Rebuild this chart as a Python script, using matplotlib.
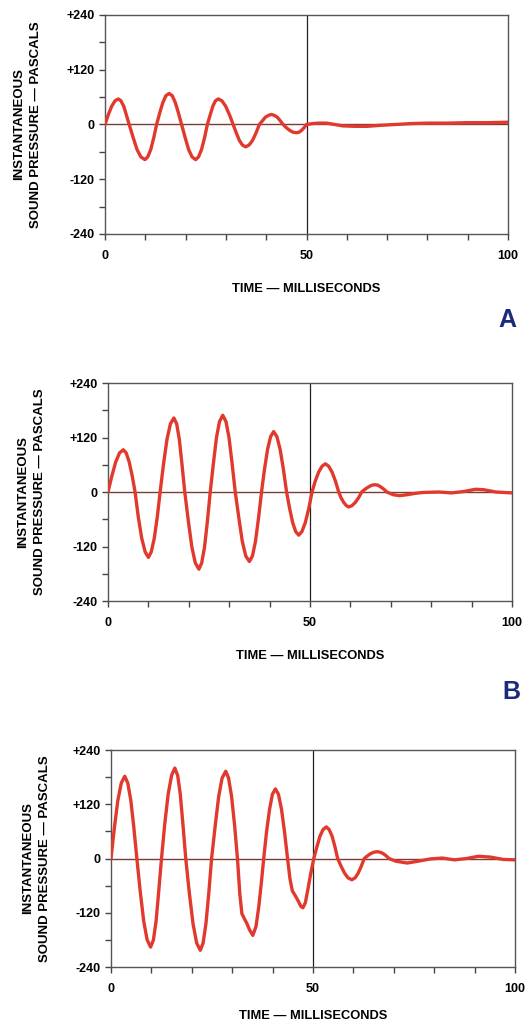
import matplotlib
matplotlib.use('Agg')
import matplotlib.pyplot as plt
from matplotlib.ticker import MultipleLocator

plt.rcParams['font.family'] = ['Liberation Sans', 'DejaVu Sans']

# Panel A - pressure wave (ms, Pa)
time_a = [0, 0.8, 1.65, 2.5, 3.3, 3.95, 4.65, 5.3, 6.0, 7.0, 7.95, 8.9, 9.9, 10.6, 11.35, 12.1, 12.8,
          13.6, 14.35, 15.1, 15.9, 16.7, 17.45, 18.2, 19.0, 19.9, 20.75, 21.6, 22.5, 23.2, 23.95, 24.7, 25.4,
          26.1, 26.75, 27.4, 28.1, 29.0, 29.95, 30.9, 31.8, 32.6, 33.35, 34.1, 34.9, 35.75, 36.6, 37.45, 38.3,
          39.05, 39.8, 40.55, 41.3, 42.0, 42.75, 43.5, 44.2, 45.0, 45.85, 46.7, 47.5, 48.1, 48.75, 49.4, 50.0,
          51.5, 53, 55, 57, 59, 62, 65, 68, 72, 76, 80, 85, 90, 95, 100]
pressure_a = [0, 21, 40, 52, 56, 52, 40, 21, 0, -29, -55, -71, -77, -71, -55, -29, 0,
              26, 48, 63, 68, 63, 48, 26, 0, -29, -55, -71, -77, -71, -55, -29, 0,
              21, 40, 52, 56, 52, 40, 21, 0, -19, -35, -45, -49, -45, -35, -19, 0,
              8, 16, 20, 22, 20, 16, 8, 0, -7, -13, -17, -18, -17, -13, -7, 0,
              2, 3, 3, 0, -3, -4, -4, -2, 0, 2, 3, 3, 4, 4, 5]

# Panel B
time_b = [0, 0.95, 1.9, 2.85, 3.8, 4.5, 5.25, 6.0, 6.7, 7.5, 8.35, 9.2, 10.0, 10.7, 11.45, 12.2, 12.9,
          13.75, 14.6, 15.45, 16.3, 17.0, 17.65, 18.3, 19.0, 19.9, 20.75, 21.6, 22.5, 23.2, 23.9, 24.6, 25.3,
          26.1, 26.85, 27.6, 28.4, 29.2, 29.95, 30.7, 31.5, 32.4, 33.25, 34.1, 35.0, 35.75, 36.5, 37.25, 38.0,
          38.75, 39.5, 40.25, 41.0, 41.8, 42.6, 43.4, 44.2, 44.95, 45.7, 46.45, 47.2, 48.0, 48.85, 49.7, 50.5,
          51.3, 52.15, 53.0, 53.8, 54.6, 55.45, 56.3, 57.1, 57.7, 58.35, 59.0, 59.6, 60.4, 61.2, 62.0, 62.8,
          63.6, 64.45, 65.3, 66.1, 66.8, 67.55, 68.3, 69.0,
          70.6, 72.2, 74.0, 76, 78, 82, 85, 88, 91, 93, 96, 100]
pressure_b = [0, 35, 66, 86, 93, 86, 66, 35, 0, -55, -102, -132, -144, -132, -102, -55, 0,
              62, 116, 150, 163, 150, 116, 62, 0, -65, -121, -156, -170, -156, -121, -65, 0,
              64, 120, 155, 169, 155, 120, 64, 0, -58, -109, -141, -153, -141, -109, -58, 0,
              51, 94, 122, 133, 122, 94, 51, 0, -36, -67, -87, -95, -87, -67, -36, 0,
              24, 44, 57, 62, 57, 44, 24, 0, -13, -23, -30, -33, -30, -23, -13, 0,
              6, 11, 15, 16, 15, 11, 6, 0,
              -6, -8, -6, -3, -1, 0, -2, 1, 6, 5, 0, -2]

# Panel C
time_c = [0, 0.85, 1.7, 2.55, 3.4, 4.15, 4.9, 5.65, 6.4, 7.25, 8.1, 8.95, 9.8, 10.5, 11.15, 11.8, 12.5,
          13.3, 14.15, 15.0, 15.8, 16.5, 17.15, 17.8, 18.5, 19.4, 20.3, 21.2, 22.1, 22.8, 23.5, 24.2, 24.9,
          25.8, 26.65, 27.5, 28.4, 29.1, 29.85, 30.6, 31.3,
          31.9, 32.4, 33.0, 33.6, 34.3, 35.1, 35.9, 36.6, 37.2, 37.8,
          38.5, 39.25, 39.95, 40.7, 41.45, 42.2, 42.95, 43.7,
          44.3, 44.9, 45.6, 46.4, 47.0, 47.5, 48.1, 48.7, 49.4, 50.2,
          51.0, 51.75, 52.5, 53.3, 54.0, 54.7, 55.4, 56.1, 57.0, 57.85, 58.7, 59.6, 60.4, 61.15, 61.9, 62.7,
          63.5, 64.3, 65.1, 65.9, 66.6, 67.35, 68.1, 68.8,
          70.5, 73.3, 76, 79, 82, 85, 88, 91, 94, 97, 100]
pressure_c = [0, 69, 129, 167, 182, 167, 129, 69, 0, -74, -139, -180, -196, -180, -139, -74, 0,
              76, 142, 184, 200, 184, 142, 76, 0, -77, -144, -187, -203, -187, -144, -77, 0,
              73, 137, 178, 193, 178, 137, 73, 0,
              -80, -122, -133, -143, -158, -170, -150, -105, -55, 0,
              59, 109, 142, 154, 142, 109, 59, 0,
              -45, -72, -82, -95, -106, -109, -98, -70, -35, 0,
              27, 50, 64, 70, 64, 50, 27, 0, -18, -33, -43, -47, -43, -33, -18, 0,
              6, 11, 14, 15, 14, 11, 6, 0,
              -6, -10, -6, -1, 1, -3, 0, 5, 3, -2, -3]

y_ticks = [-240, -120, 0, 120, 240]
y_tick_labels = ['-240', '-120', '0', '+120', '+240']
x_ticks = [0, 50, 100]
x_tick_labels = ['0', '50', '100']
y_title = 'INSTANTANEOUS\nSOUND PRESSURE \u2014 PASCALS'
x_title = 'TIME \u2014 MILLISECONDS'

W, H = 527, 1022
fig = plt.figure(figsize=(W / 100, H / 100), dpi=100)
fig.patch.set_facecolor('white')


def panel(box, t, p, ylab_x, xpad=15):
    # box = (left, top, right, bottom) in pixels
    l, top, r, b = box
    ax = fig.add_axes([l / W, 1 - b / H, (r - l) / W, (b - top) / H])
    ax.set_xlim(0, 100)
    ax.set_ylim(-240, 240)
    ax.axhline(0, color='#7a3c34', lw=1.0, zorder=2)
    ax.axvline(50, color='#222222', lw=0.9, zorder=2)
    ax.plot(t, p, color='#e1392d', lw=2.4, solid_capstyle='round', solid_joinstyle='round', zorder=3)

    ax.set_yticks(range(-240, 241, 60))
    ax.set_yticklabels([y_tick_labels[y_ticks.index(v)] if v in y_ticks else '' for v in range(-240, 241, 60)])
    ax.set_xticks(range(0, 101, 10))
    ax.set_xticklabels([x_tick_labels[x_ticks.index(v)] if v in x_ticks else '' for v in range(0, 101, 10)])
    ax.tick_params(axis='y', direction='out', length=4.5, width=1, color='#444444', pad=3,
                   labelsize=9)
    ax.tick_params(axis='x', direction='out', length=4.5, width=1, color='#444444', pad=7,
                   labelsize=9)
    for lab in ax.get_xticklabels() + ax.get_yticklabels():
        lab.set_fontweight('bold')
    for s in ax.spines.values():
        s.set_color('#555555')
        s.set_linewidth(1.0)
    ax.set_xlabel(x_title, fontsize=9.3, fontweight='bold', labelpad=xpad)
    fig.text(ylab_x / W, 1 - ((top + b) / 2) / H, y_title, rotation=90, ha='center', va='center',
             multialignment='center', fontsize=9.5, fontweight='bold', linespacing=1.55)
    return ax


panel((105, 15, 508, 234), time_a, pressure_a, 28)
panel((108, 383, 512, 601), time_b, pressure_b, 31.5)
panel((111, 750, 515, 967), time_c, pressure_c, 36.5, xpad=11)

fig.text(507 / W, 1 - 320 / H, 'A', ha='center', va='center', fontsize=18, fontweight='bold', color='#1c2a7a')
fig.text(511 / W, 1 - 692 / H, 'B', ha='center', va='center', fontsize=18, fontweight='bold', color='#1c2a7a')

fig.savefig('out.png', dpi=100)
